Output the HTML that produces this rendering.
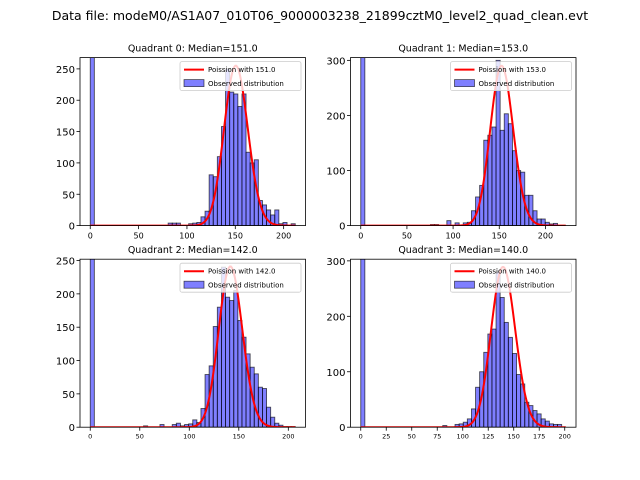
<!DOCTYPE html>
<html><head><meta charset="utf-8"><style>
html,body{margin:0;padding:0;background:#fff;}
svg{display:block;font-family:"DejaVu Sans","Liberation Sans",sans-serif;}
</style></head><body>
<svg id="fig" width="640" height="480" viewBox="0 0 640 480" xmlns="http://www.w3.org/2000/svg">
<rect width="640" height="480" fill="#fff"/>
<text x="320" y="20" text-anchor="middle" font-size="12.5">Data file: modeM0/AS1A07_010T06_9000003238_21899cztM0_level2_quad_clean.evt</text>
</svg>
<script>
// Data per quadrant (50-bin histograms)
const q0Counts = [1000,0,0,0,0,0,0,0,0,0,0,0,0,0,0,0,0,0,0,4,4,4,0,0,3,4,5,14,23,81,78,110,158,250,213,210,190,210,117,100,105,40,33,25,17,25,3,5,0,3];
const q1Counts = [1000,0,0,0,0,0,0,0,0,0,0,0,0,0,0,0,0,2,2,0,0,9,0,5,0,5,6,27,52,73,155,164,179,300,173,203,185,136,100,97,55,55,27,12,12,6,3,4,0,0];
const q2Counts = [1000,0,0,0,0,0,0,0,0,0,0,0,0,2,0,0,0,4,0,0,4,6,2,4,5,11,7,28,79,92,151,180,240,195,190,205,160,135,110,90,80,60,58,30,15,6,3,1,1,1];
const q3Counts = [1000,0,0,0,0,0,0,0,0,0,0,0,0,0,0,0,0,0,0,0,3,0,0,5,6,9,15,33,72,100,135,168,177,280,234,189,162,133,95,78,45,39,30,24,15,11,6,5,5,0];
const dataMax = [212, 222, 207, 201];
const medians = [151.0, 153.0, 142.0, 140.0];
const curvePeaks = [255, 290, 241, 289];
const yMax = [268, 305, 252, 303];
const yTicks0 = [0,50,100,150,200,250];
const yTicks1 = [0,100,200,300];
const yTicks2 = [0,50,100,150,200,250];
const yTicks3 = [0,100,200,300];
const xTicks0 = [0,50,100,150,200];
const xTicks1 = [0,50,100,150,200];
const xTicks2 = [0,50,100,150,200];
const xTicks3 = [0,25,50,75,100,125,150,175,200];

const NS="http://www.w3.org/2000/svg";
const svg=document.getElementById('fig');
function mk(tag,attrs,parent){const e=document.createElementNS(NS,tag);for(const k in attrs)e.setAttribute(k,attrs[k]);(parent||svg).appendChild(e);return e;}
function lgamma(x){
  if(x<7){let p=1;while(x<7){p*=x;x+=1;}return lgamma(x)-Math.log(p);}
  return (x-0.5)*Math.log(x)-x+0.5*Math.log(2*Math.PI)+1/(12*x)-1/(360*x*x*x);
}
const panels=[
 {counts:q0Counts,yt:yTicks0,xt:xTicks0,L:80,T:57.6,xfs:8},
 {counts:q1Counts,yt:yTicks1,xt:xTicks1,L:350.5,T:57.6,xfs:8},
 {counts:q2Counts,yt:yTicks2,xt:xTicks2,L:80,T:259.2,xfs:6.5},
 {counts:q3Counts,yt:yTicks3,xt:xTicks3,L:350.5,T:259.2,xfs:6.5}
];
const W=225.5,H=168;
panels.forEach((p,qi)=>{
  const g=mk('g',{});
  
  
  const max=dataMax[qi], xmin=-0.05*max, xmax=1.05*max;
  const X=v=>p.L+(v-xmin)/(xmax-xmin)*W;
  const B=p.T+H;
  const Y=v=>B-v/yMax[qi]*H;
  const cid='clip'+qi;
  const cp=mk('clipPath',{id:cid},g);mk('rect',{x:p.L,y:p.T,width:W,height:H},cp);
  const plot=mk('g',{'clip-path':'url(#'+cid+')'},g);
  const n=p.counts.length,bw=max/n;
  p.counts.forEach((c,i)=>{
    if(c<=0)return;
    const r=mk('rect',{x:X(i*bw),y:Y(c),width:X((i+1)*bw)-X(i*bw),height:B-Y(c),fill:'#0000ff','fill-opacity':0.5,stroke:'#000','stroke-opacity':0.65,'stroke-width':0.9},plot);
    
    
  });
  const lam=medians[qi];
  const lpm=Math.floor(lam)*Math.log(lam)-lam-lgamma(Math.floor(lam)+1);
  let d='';
  for(let k=0;k<=Math.round(max);k++){
    const v=curvePeaks[qi]*Math.exp(k*Math.log(lam)-lam-lgamma(k+1)-lpm);
    d+=(k?'L':'M')+X(k).toFixed(2)+','+Y(v).toFixed(2);
  }
  const line=mk('path',{d:d,fill:'none',stroke:'#ff0000','stroke-width':2},plot);
  
  
  const fr=mk('rect',{x:p.L,y:p.T,width:W,height:H,fill:'none',stroke:'#000','stroke-width':0.8},g);
  
  
  p.yt.forEach(t=>{
    mk('line',{x1:p.L-3.5,x2:p.L,y1:Y(t),y2:Y(t),stroke:'#000','stroke-width':0.8},g);
    const tx=mk('text',{x:p.L-5,y:Y(t)+4,'text-anchor':'end','font-size':10},g);tx.textContent=t;
    
    
  });
  p.xt.forEach(t=>{
    mk('line',{x1:X(t),x2:X(t),y1:B,y2:B+3.5,stroke:'#000','stroke-width':0.8},g);
    const tx=mk('text',{x:X(t),y:B+5+p.xfs,'text-anchor':'middle','font-size':p.xfs},g);tx.textContent=t;
    
    
  });
  const ti=mk('text',{x:p.L+W/2,y:p.T-6,'text-anchor':'middle','font-size':9.5},g);
  ti.textContent='Quadrant '+qi+': Median='+lam.toFixed(1);
  
  
  const lg=mk('g',{},g);
  
  
  const lx=p.L+W-125.5, ly=p.T+4;
  mk('rect',{x:lx,y:ly,width:121,height:29,rx:2,fill:'#fff','fill-opacity':0.8,stroke:'#ccc','stroke-width':0.8},lg);
  mk('line',{x1:lx+4,x2:lx+24,y1:ly+8,y2:ly+8,stroke:'#ff0000','stroke-width':2},lg);
  const t1=mk('text',{x:lx+28,y:ly+10.5,'font-size':7},lg);t1.textContent='Poission with '+lam.toFixed(1);
  
  
  mk('rect',{x:lx+4,y:ly+18,width:20,height:7,fill:'#0000ff','fill-opacity':0.5,stroke:'#000','stroke-opacity':0.65,'stroke-width':0.8},lg);
  const t2=mk('text',{x:lx+28,y:ly+24.5,'font-size':7},lg);t2.textContent='Observed distribution';
  
  
});
</script>
</body></html>
